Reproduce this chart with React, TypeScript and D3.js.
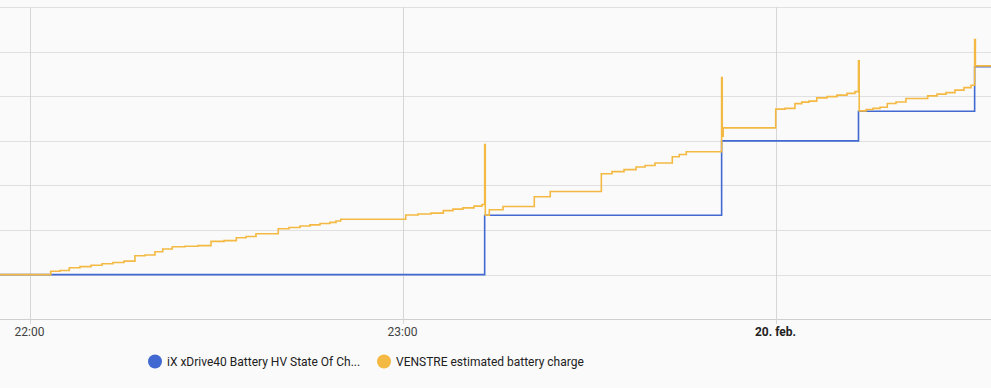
import React from 'react';
import * as d3 from 'd3';

const W = 991;
const H = 388;

// Blue series: iX xDrive40 Battery HV State Of Charge (%)
const blueTimes = ['21:54:00', '23:13:13', '23:51:20', '00:13:21', '00:32:02', '00:37:00'];
const blueValues = [57, 61, 66, 68, 71, 71];

// Orange series: VENSTRE estimated battery charge (%)
const orangeTimes = [
  '21:54:00', '22:03:25', '22:04:54', '22:06:24', '22:08:07', '22:09:54', '22:11:40', '22:13:26',
  '22:15:12', '22:16:58', '22:18:35', '22:20:11', '22:21:26', '22:22:58', '22:25:01', '22:27:06',
  '22:29:12', '22:31:17', '22:33:16', '22:34:50', '22:36:26', '22:40:01', '22:41:44', '22:43:31',
  '22:45:07', '22:46:44', '22:48:20', '22:49:18', '22:50:04', '23:00:31', '23:02:30', '23:04:35',
  '23:06:34', '23:08:07', '23:09:44', '23:11:30', '23:12:47', '23:13:13', '23:13:19', '23:13:58',
  '23:16:10', '23:21:12', '23:23:46', '23:31:59', '23:33:42', '23:35:38', '23:37:34', '23:39:01',
  '23:40:37', '23:43:24', '23:44:31', '23:45:39', '23:51:20', '23:51:26', '23:51:35', '00:00:02',
  '00:01:32', '00:03:08', '00:04:13', '00:05:23', '00:06:38', '00:08:17', '00:09:53', '00:11:30',
  '00:12:47', '00:13:21', '00:13:28', '00:14:34', '00:15:41', '00:16:49', '00:17:59', '00:19:23',
  '00:20:59', '00:24:29', '00:25:59', '00:27:26', '00:28:52', '00:30:19', '00:31:27', '00:32:02',
  '00:32:09', '00:37:00',
];
const orangeValues = [
  57.0, 57.23, 57.28, 57.46, 57.54, 57.63, 57.73, 57.82,
  57.91, 58.27, 58.32, 58.54, 58.72, 58.88, 58.91, 58.95,
  59.24, 59.29, 59.48, 59.57, 59.75, 60.09, 60.17, 60.27,
  60.35, 60.44, 60.52, 60.61, 60.73, 61.01, 61.08, 61.14,
  61.31, 61.41, 61.49, 61.61, 61.72, 65.76, 61.0, 61.37,
  61.59, 62.24, 62.6, 63.79, 63.93, 64.07, 64.24, 64.35,
  64.51, 64.93, 65.09, 65.27, 70.27, 66.32, 66.88, 68.14,
  68.19, 68.51, 68.61, 68.68, 68.9, 68.98, 69.08, 69.2,
  69.32, 71.4, 68.02, 68.11, 68.19, 68.27, 68.52, 68.62,
  68.85, 69.03, 69.15, 69.25, 69.42, 69.59, 69.75, 72.83,
  71.05, 71.05,
];

const yTicks = [54, 57, 60, 63, 66, 69, 72, 75];
const xTickTimes = ['22:00:00', '23:00:00', '00:00:00'];
const xTickLabels = ['22:00', '23:00', '20. feb.'];
const xTickBold = [false, false, true];
const legendLabels = ['iX xDrive40 Battery HV State Of Ch...', 'VENSTRE estimated battery charge'];
const colors = ['#4169d1', '#f4b942'];

function toDate(t: string): Date {
  const [h, m, s] = t.split(':').map(Number);
  const day = h < 12 ? 20 : 19;
  return new Date(2024, 1, day, h, m, s);
}

export default function App() {
  const x = d3
    .scaleTime()
    .domain([toDate('22:00:00'), toDate('00:00:00')])
    .range([29.5, 775.5]);
  const y = d3.scaleLinear().domain([54, 75]).range([319.2, 7.2]);

  const line = d3
    .line<[Date, number]>()
    .x((d) => x(d[0]))
    .y((d) => y(d[1]))
    .curve(d3.curveStepAfter);

  const blue: [Date, number][] = blueTimes.map((t, i) => [toDate(t), blueValues[i]]);
  const orange: [Date, number][] = orangeTimes.map((t, i) => [toDate(t), orangeValues[i]]);

  const font = 'Roboto, "Noto Sans", sans-serif';
  const legendX = [155, 384];

  return (
    <svg
      width={W}
      height={H}
      style={{ position: 'absolute', left: 0, top: 0, background: '#fafafa' }}
    >
      <defs>
        <clipPath id="plot">
          <rect x={0} y={0} width={W} height={320} />
        </clipPath>
      </defs>
      <rect x={0} y={0} width={W} height={H} fill="#fafafa" />
      {yTicks.map((v) => (
        <line
          key={v}
          x1={0}
          x2={W}
          y1={Math.round(y(v)) + 0.5}
          y2={Math.round(y(v)) + 0.5}
          stroke={v === 54 ? '#cfcfcf' : '#e0e0e0'}
          strokeWidth={1}
        />
      ))}
      {xTickTimes.map((t) => {
        const px = Math.round(x(toDate(t))) + 0.5;
        return (
          <line key={t} x1={px} x2={px} y1={y(75)} y2={324} stroke="#d6d6d6" strokeWidth={1} />
        );
      })}
      <g clipPath="url(#plot)">
        <path d={line(blue) || ''} fill="none" stroke={colors[0]} strokeWidth={1.6} />
        <path d={line(orange) || ''} fill="none" stroke={colors[1]} strokeWidth={1.6} />
      </g>
      {xTickTimes.map((t, i) => (
        <text
          key={t}
          x={x(toDate(t))}
          y={336}
          textAnchor="middle"
          fontFamily={font}
          fontSize={12}
          fontWeight={xTickBold[i] ? 700 : 400}
          fill={xTickBold[i] ? '#212121' : '#424242'}
        >
          {xTickLabels[i]}
        </text>
      ))}
      {legendLabels.map((l, i) => (
        <g key={l}>
          <circle cx={legendX[i]} cy={361.5} r={7} fill={colors[i]} />
          <text
            x={legendX[i] + 12}
            y={365.5}
            fontFamily={font}
            fontSize={12}
            fill="#212121"
          >
            {l}
          </text>
        </g>
      ))}
    </svg>
  );
}
